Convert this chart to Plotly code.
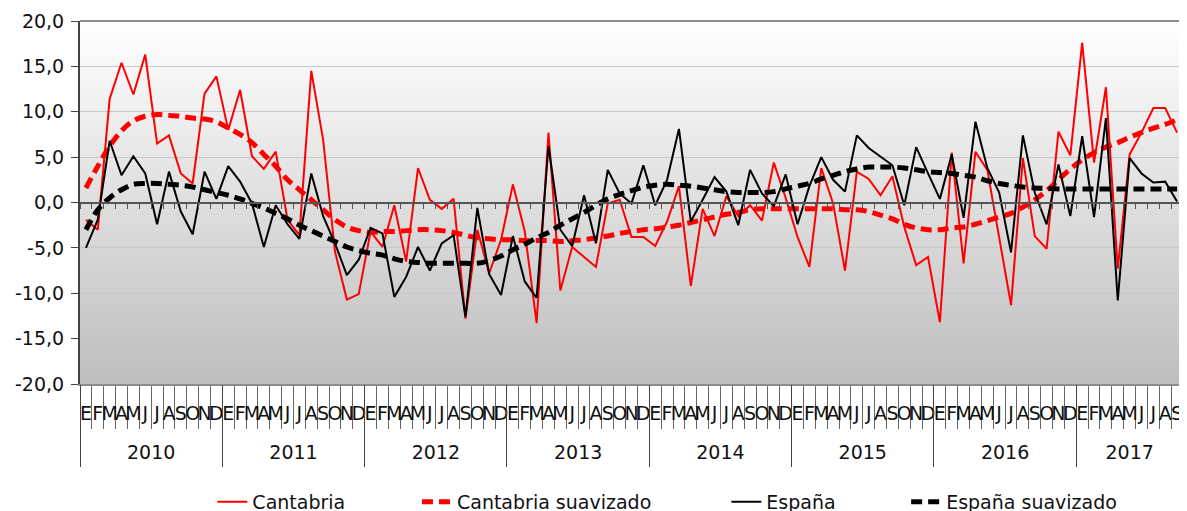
import base64
import struct
import zlib

import plotly.graph_objects as go

# ---------------- data ----------------
years = ["2010", "2011", "2012", "2013", "2014", "2015", "2016", "2017"]
month_letters = ["E", "F", "M", "A", "M", "J", "J", "A", "S", "O", "N", "D"]
months_last_year = 9

cantabria = [
    -1.9, -3.0, 11.4, 15.4, 11.9, 16.3, 6.5, 7.4, 3.2, 2.1, 12.0, 13.9,
    8.0, 12.4, 5.1, 3.7, 5.6, -1.9, -3.6, 14.5, 6.9, -5.4, -10.7, -10.1,
    -3.2, -4.9, -0.3, -6.5, 3.8, 0.3, -0.7, 0.4, -12.8, -3.0, -7.8, -4.1,
    2.0, -3.2, -13.3, 7.7, -9.7, -4.9, -6.0, -7.1, -0.1, 0.3, -3.8, -3.8,
    -4.8, -2.1, 1.8, -9.2, -0.7, -3.7, 0.7, -1.5, -0.3, -2.0, 4.4, 0.5,
    -3.8, -7.1, 3.8, -0.1, -7.5, 3.4, 2.6, 0.8, 2.9, -2.7, -6.9, -6.0,
    -13.2, 5.5, -6.7, 5.6, 3.6, -3.9, -11.3, 4.9, -3.7, -5.1, 7.8, 5.2,
    17.6, 4.4, 12.7, -7.3, 5.3, 7.7, 10.4, 10.4, 7.7,
]
cantabria_suav = [
    1.6, 4.0, 6.2, 7.9, 9.0, 9.5, 9.7, 9.6, 9.5, 9.3, 9.2, 8.9,
    8.2, 7.5, 6.6, 5.3, 4.0, 2.5, 1.4, 0.3, -0.8, -1.9, -2.7, -3.1,
    -3.3, -3.2, -3.2, -3.1, -3.0, -3.0, -3.1, -3.3, -3.6, -3.9, -4.0, -4.1,
    -4.1, -4.2, -4.2, -4.2, -4.3, -4.2, -4.1, -3.9, -3.7, -3.4, -3.2, -3.0,
    -2.9, -2.7, -2.5, -2.2, -1.9, -1.6, -1.3, -1.1, -0.8, -0.7, -0.7, -0.7,
    -0.7, -0.7, -0.7, -0.7, -0.8, -0.8, -1.0, -1.4, -1.8, -2.4, -2.8, -3.0,
    -3.0, -2.8, -2.7, -2.4, -2.0, -1.6, -1.2, -0.5, 0.3, 1.3, 2.5, 3.7,
    4.7, 5.5, 6.1, 6.6, 7.2, 7.7, 8.2, 8.6, 9.1,
]
espana = [
    -5.0, -1.9, 6.8, 3.0, 5.1, 3.2, -2.4, 3.4, -1.0, -3.5, 3.4, 0.4,
    4.0, 2.3, -0.1, -4.9, -0.3, -2.4, -4.0, 3.2, -1.5, -4.5, -8.0, -6.3,
    -2.8, -3.4, -10.4, -8.2, -4.9, -7.5, -4.5, -3.6, -12.6, -0.6, -7.9, -10.2,
    -3.7, -8.7, -10.5, 6.2, -3.0, -4.8, 0.8, -4.5, 3.6, 1.0, -0.1, 4.1,
    -0.3, 2.5, 8.1, -2.1, 0.3, 2.8, 1.2, -2.5, 3.6, 1.0, -0.4, 3.1,
    -2.4, 1.8, 5.0, 2.5, 1.2, 7.4, 6.0, 5.0, 4.1, -0.3, 6.1, 3.2,
    0.4, 5.3, -1.7, 8.9, 3.8, 1.1, -5.5, 7.4, 1.1, -2.4, 4.2, -1.5,
    7.3, -1.6, 9.3, -10.8, 4.9, 3.2, 2.2, 2.3, 0.1,
]
espana_suav = [
    -3.0, -0.8, 0.5, 1.4, 2.0, 2.1, 2.1, 2.0, 1.9, 1.7, 1.4, 1.1,
    0.8, 0.4, -0.1, -0.6, -1.2, -1.8, -2.5, -3.1, -3.7, -4.3, -4.9, -5.3,
    -5.6, -5.8, -6.2, -6.5, -6.6, -6.7, -6.7, -6.7, -6.7, -6.7, -6.4, -5.9,
    -5.2, -4.6, -3.9, -3.3, -2.5, -1.8, -1.1, -0.3, 0.4, 0.9, 1.3, 1.7,
    1.9, 2.0, 1.9, 1.8, 1.6, 1.4, 1.2, 1.1, 1.1, 1.1, 1.2, 1.5,
    1.8, 2.1, 2.6, 3.0, 3.4, 3.7, 3.9, 3.9, 3.9, 3.8, 3.6, 3.4,
    3.3, 3.2, 3.0, 2.8, 2.4, 2.1, 1.9, 1.7, 1.6, 1.55, 1.5, 1.5,
    1.5, 1.5, 1.5, 1.5, 1.5, 1.5, 1.5, 1.5, 1.5,
]
y_ticks = [-20, -15, -10, -5, 0, 5, 10, 15, 20]
y_ticktext = ["-20,0", "-15,0", "-10,0", "-5,0", "0,0", "5,0", "10,0", "15,0", "20,0"]

# ---------------- derived axis helpers ----------------
month_labels = []
year_of_point = []
for k, yr in enumerate(years):
    count = months_last_year if k == len(years) - 1 else 12
    month_labels += month_letters[:count]
    year_of_point += [yr] * count
n = len(month_labels)
xi = list(range(n))
year_centers = []
for yr in years:
    idx = [i for i, v in enumerate(year_of_point) if v == yr]
    year_centers.append(sum(idx) / len(idx))

FONT = "DejaVu Sans"
FS = 19


def gradient_png(h, top, bottom):
    raw = b""
    for r in range(h):
        t = r / (h - 1)
        c = bytes(round(top[k] + (bottom[k] - top[k]) * t) for k in range(3))
        raw += b"\x00" + c * 4

    def chunk(tag, data):
        return (struct.pack(">I", len(data)) + tag + data
                + struct.pack(">I", zlib.crc32(tag + data) & 0xFFFFFFFF))

    ihdr = struct.pack(">IIBBBBB", 4, h, 8, 2, 0, 0, 0)
    png = (b"\x89PNG\r\n\x1a\n" + chunk(b"IHDR", ihdr)
           + chunk(b"IDAT", zlib.compress(raw)) + chunk(b"IEND", b""))
    return "data:image/png;base64," + base64.b64encode(png).decode()


fig = go.Figure()
dash = "11px,6px"
fig.add_trace(go.Scatter(x=xi, y=cantabria, mode="lines", name="Cantabria",
                         line=dict(color="#ff0000", width=2), legend="legend",
                         xaxis="x", yaxis="y"))
fig.add_trace(go.Scatter(x=xi, y=cantabria_suav, mode="lines", name="Cantabria suavizado",
                         line=dict(color="#ff0000", width=5, dash=dash, shape="spline"),
                         legend="legend2", xaxis="x", yaxis="y"))
fig.add_trace(go.Scatter(x=xi, y=espana, mode="lines", name="España",
                         line=dict(color="#000000", width=2), legend="legend3",
                         xaxis="x2", yaxis="y"))
fig.add_trace(go.Scatter(x=xi, y=espana_suav, mode="lines", name="España suavizado",
                         line=dict(color="#000000", width=5, dash=dash, shape="spline"),
                         legend="legend4", xaxis="x3", yaxis="y"))

xr = [-0.5, n - 0.5]
leg_common = dict(orientation="h", yanchor="middle", y=-0.325, xanchor="left",
                  bgcolor="rgba(0,0,0,0)", font=dict(family=FONT, size=FS, color="#111"))

# the page body adds an 8px offset, so margins are shifted to compensate
fig.update_layout(
    width=1179, height=520,
    margin=dict(l=72, r=4, t=13, b=144, autoexpand=False),
    paper_bgcolor="white", plot_bgcolor="rgba(0,0,0,0)",
    font=dict(family=FONT, size=FS, color="#111"),
    showlegend=True,
    legend=dict(leg_common, x=0.12),
    legend2=dict(leg_common, x=0.3055),
    legend3=dict(leg_common, x=0.586),
    legend4=dict(leg_common, x=0.749),
    xaxis=dict(
        range=xr, showgrid=False, zeroline=False, automargin=False,
        showline=True, linecolor="#8c8c8c", linewidth=2,
        tickmode="array", tickvals=xi, ticktext=month_labels, ticks="",
        tickangle=0, tickfont=dict(family=FONT, size=FS, color="#111"),
        ticklabelstandoff=11,
        minor=dict(tickmode="linear", tick0=-0.5, dtick=1, ticks="outside",
                   ticklen=43, tickcolor="#666", tickwidth=1, showgrid=False),
    ),
    xaxis2=dict(
        overlaying="x", anchor="free", position=0.5, range=xr, automargin=False,
        showgrid=False, zeroline=False, showline=True, linecolor="#555", linewidth=1.5,
        tickmode="linear", tick0=-0.5, dtick=1, ticks="outside", ticklen=6,
        tickcolor="#555", tickwidth=1, showticklabels=False,
    ),
    xaxis3=dict(
        overlaying="x", anchor="y", side="bottom", range=xr, automargin=False,
        showgrid=False, zeroline=False, showline=False,
        tickmode="array", tickvals=year_centers, ticktext=years, ticks="",
        tickangle=0, tickfont=dict(family=FONT, size=FS, color="#111"),
        ticklabelstandoff=55,
        minor=dict(tickmode="linear", tick0=-0.5, dtick=12, ticks="outside",
                   ticklen=82, tickcolor="#444", tickwidth=1, showgrid=False),
    ),
    yaxis=dict(
        range=[-20, 20], tickmode="array", tickvals=y_ticks, ticktext=y_ticktext,
        showgrid=True, gridcolor="#c8c8c8", gridwidth=1, zeroline=False,
        showline=True, linecolor="#444", linewidth=2, automargin=False,
        ticks="outside", ticklen=7, tickcolor="#444",
        tickfont=dict(family=FONT, size=FS, color="#111"), ticklabelstandoff=3,
    ),
    images=[dict(source=gradient_png(256, (255, 255, 255), (190, 190, 190)),
                 xref="paper", yref="paper", x=0, y=1, sizex=1, sizey=1,
                 xanchor="left", yanchor="top", sizing="stretch", layer="below")],
    shapes=[dict(type="path", xref="paper", yref="paper", path="M0,1 L1,1 L1,0",
                 line=dict(color="#8c8c8c", width=2))],
)

fig.write_html("out.html")
